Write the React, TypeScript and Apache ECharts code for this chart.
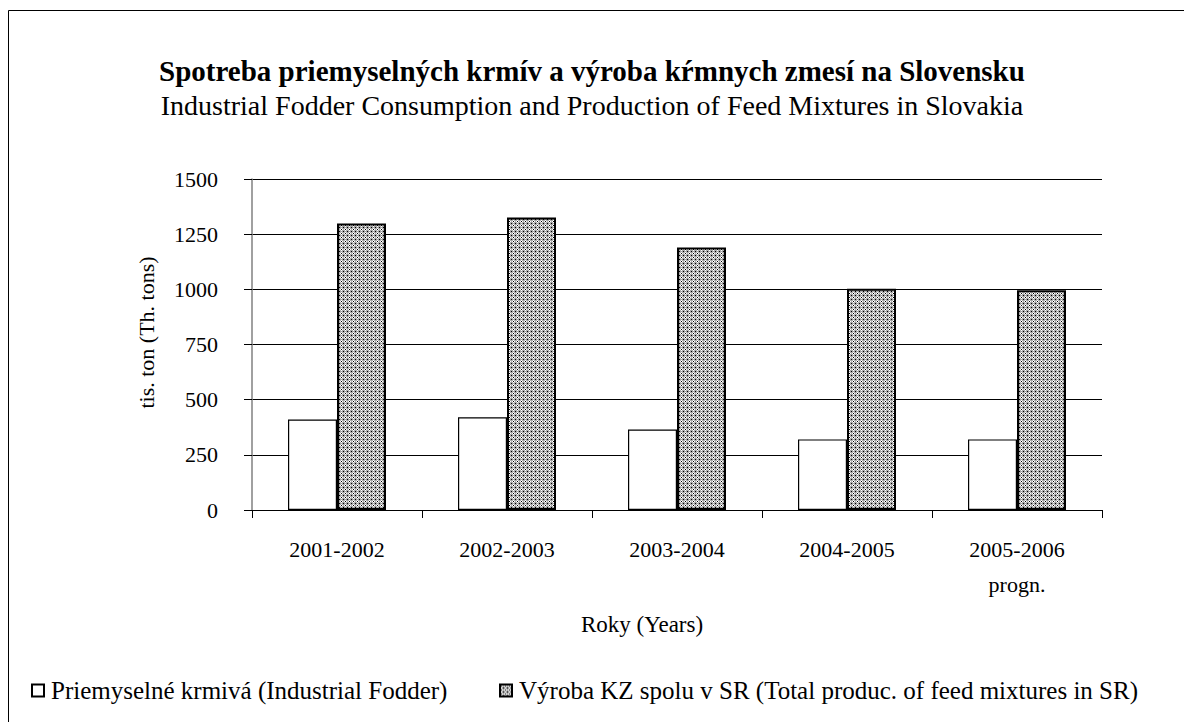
import React, { useEffect, useRef } from "react";
import * as echarts from "echarts";

const categories = ["2001-2002", "2002-2003", "2003-2004", "2004-2005", "2005-2006\nprogn."];
const fodder = [410, 420, 365, 320, 320];
const feedMixtures = [1298, 1325, 1190, 1003, 996];
const seriesNames = [
  "Priemyselné krmivá (Industrial Fodder)",
  "Výroba KZ spolu v SR (Total produc. of feed mixtures in SR)",
];
const titleMain = "Spotreba priemyselných krmív a výroba kŕmnych zmesí na Slovensku";
const titleSub = "Industrial Fodder Consumption and Production of Feed Mixtures in Slovakia";
const yAxisName = "tis. ton (Th. tons)";
const xAxisName = "Roky (Years)";
const yMin = 0;
const yMax = 1500;
const yInterval = 250;

const FONT = "Liberation Serif";

function makePattern() {
  const c = document.createElement("canvas");
  c.width = 4;
  c.height = 4;
  const ctx = c.getContext("2d")!;
  ctx.fillStyle = "#a8a8a8";
  ctx.fillRect(0, 0, 4, 4);
  ctx.fillStyle = "#ffffff";
  ctx.fillRect(0, 1, 1, 1);
  ctx.fillRect(2, 1, 1, 1);
  ctx.fillRect(1, 0, 1, 1);
  ctx.fillRect(1, 2, 1, 1);
  ctx.fillStyle = "#000000";
  ctx.fillRect(1, 1, 1, 1);
  ctx.fillRect(3, 3, 1, 1);
  return { image: c.toDataURL(), repeat: "repeat", imageWidth: 4, imageHeight: 4 };
}

export default function App() {
  const ref = useRef<HTMLDivElement>(null);
  useEffect(() => {
    if (!ref.current) return;
    const chart = echarts.init(ref.current, undefined, { renderer: "svg" });
    const pattern = makePattern();
    chart.setOption({
      animation: false,
      backgroundColor: "#ffffff",
      textStyle: { fontFamily: FONT, color: "#000" },
      title: [
        {
          text: titleMain,
          left: "center",
          top: 51,
          textStyle: { fontFamily: FONT, fontSize: 29, fontWeight: "bold", color: "#000" },
        },
        {
          text: titleSub,
          left: "center",
          top: 86,
          textStyle: { fontFamily: FONT, fontSize: 28, fontWeight: "normal", color: "#000" },
        },
      ],
      graphic: [
        {
          type: "rect",
          shape: { x: 8.5, y: 10.5, width: 1300, height: 900 },
          style: { fill: "none", stroke: "#000", lineWidth: 1 },
          silent: true,
        },
      ],
      legend: [
        {
          data: [{ name: seriesNames[0], icon: "rect" }],
          left: 26,
          top: 673,
          itemWidth: 12,
          itemHeight: 12,
          textStyle: { fontFamily: FONT, fontSize: 25, color: "#000", padding: [0, 0, 0, 2] },
        },
        {
          data: [{ name: seriesNames[1], icon: "rect" }],
          left: 494,
          top: 673,
          itemWidth: 12,
          itemHeight: 12,
          textStyle: { fontFamily: FONT, fontSize: 25, color: "#000", padding: [0, 0, 0, 2] },
        },
      ],
      grid: { left: 252, right: 82, top: 179, bottom: 212, containLabel: false },
      xAxis: {
        type: "category",
        data: categories,
        name: xAxisName,
        nameLocation: "middle",
        nameGap: 103,
        nameTextStyle: { fontFamily: FONT, fontSize: 23, color: "#000", padding: [0, 70, 0, 0] },
        axisLine: { lineStyle: { color: "#000", width: 1 } },
        axisTick: { show: true, length: 8, lineStyle: { color: "#000" } },
        axisLabel: { fontFamily: FONT, fontSize: 22, color: "#000", margin: 22, lineHeight: 35 },
      },
      yAxis: {
        type: "value",
        min: yMin,
        max: yMax,
        interval: yInterval,
        name: yAxisName,
        nameLocation: "middle",
        nameGap: 95,
        nameTextStyle: { fontFamily: FONT, fontSize: 22, color: "#000", padding: [0, 0, 0, 24] },
        axisLine: { show: true, lineStyle: { color: "#808080", width: 1.5 } },
        axisTick: { show: true, length: 8, lineStyle: { color: "#000" } },
        axisLabel: {
          fontFamily: FONT,
          fontSize: 22,
          color: "#000",
          margin: 34,
          formatter: (v: number) => String(v),
        },
        splitLine: { show: true, lineStyle: { color: "#000", width: 1 } },
      },
      series: [
        {
          name: seriesNames[0],
          type: "bar",
          data: fodder,
          barWidth: 49,
          barGap: "0%",
          itemStyle: { color: "#ffffff", borderColor: "#000", borderWidth: 1.2 },
        },
        {
          name: seriesNames[1],
          type: "bar",
          data: feedMixtures,
          barWidth: 49,
          barGap: "0%",
          itemStyle: { color: pattern, borderColor: "#000", borderWidth: 2 },
        },
      ],
    });
    return () => chart.dispose();
  }, []);
  return (
    <div
      ref={ref}
      style={{ position: "absolute", left: 0, top: 0, width: 1184, height: 722 }}
    />
  );
}
